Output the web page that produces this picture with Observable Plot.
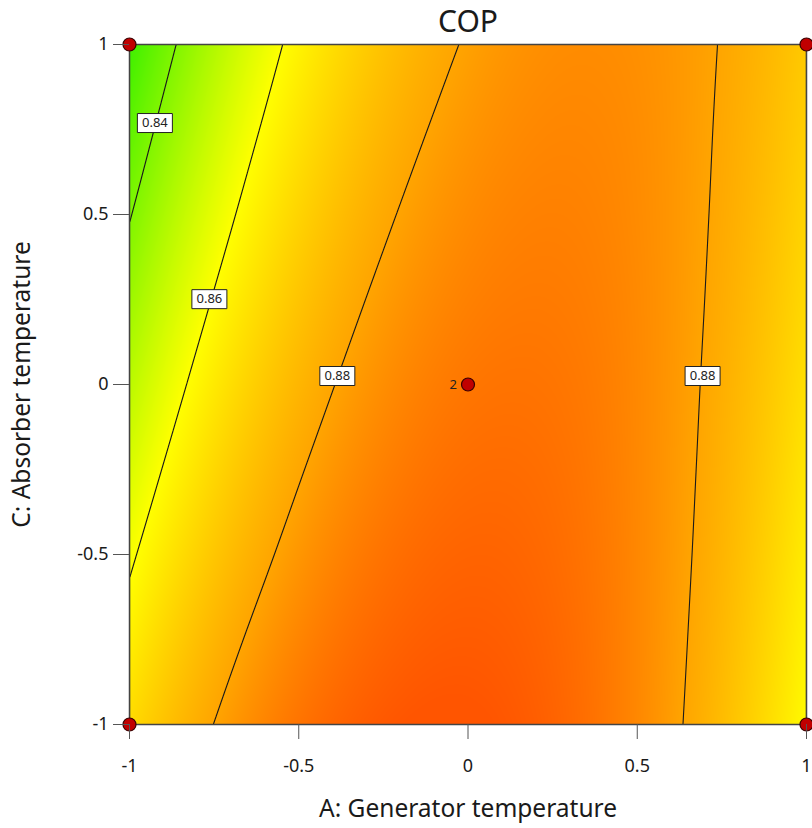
<!DOCTYPE html>
<html><head><meta charset="utf-8">
<script src="https://cdn.jsdelivr.net/npm/d3@7"></script>
<script src="https://cdn.jsdelivr.net/npm/@observablehq/plot@0.6"></script>
<style>body{margin:0;background:#fff;font-family:"Noto Sans",sans-serif}</style>
</head><body><div id="chart"></div>
<script>
// Coded factor levels (grid of COP estimates)
const A_levels = [-1, -0.75, -0.5, -0.25, 0, 0.25, 0.5, 0.75, 1];
const C_levels = [1, 0.75, 0.5, 0.25, 0, -0.25, -0.5, -0.75, -1];
// COP estimates: rows follow C_levels, columns follow A_levels
const copGrid = [
  [0.8294, 0.8478, 0.8625, 0.8734, 0.8806, 0.8841, 0.8837, 0.8797, 0.8718],
  [0.8345, 0.8521, 0.8660, 0.8762, 0.8826, 0.8853, 0.8842, 0.8793, 0.8707],
  [0.8395, 0.8563, 0.8695, 0.8789, 0.8845, 0.8864, 0.8845, 0.8789, 0.8695],
  [0.8444, 0.8605, 0.8729, 0.8815, 0.8863, 0.8874, 0.8848, 0.8784, 0.8683],
  [0.8492, 0.8646, 0.8762, 0.8840, 0.8881, 0.8884, 0.8850, 0.8778, 0.8669],
  [0.8540, 0.8686, 0.8794, 0.8864, 0.8898, 0.8893, 0.8851, 0.8772, 0.8655],
  [0.8587, 0.8725, 0.8825, 0.8888, 0.8914, 0.8901, 0.8852, 0.8765, 0.8640],
  [0.8633, 0.8764, 0.8856, 0.8911, 0.8929, 0.8909, 0.8852, 0.8757, 0.8625],
  [0.8679, 0.8801, 0.8886, 0.8934, 0.8944, 0.8916, 0.8851, 0.8748, 0.8608]
];
const contourLevels = [0.84, 0.86, 0.88];
// Contour label placements (coded units) and texts
const labelA = [-0.925, -0.764, -0.386, 0.693];
const labelC = [0.769, 0.251, 0.025, 0.025];
const labelText = ["0.84", "0.86", "0.88", "0.88"];
// Design points
const designA = [-1, 1, -1, 1, 0];
const designC = [1, 1, -1, -1, 0];
const designRuns = ["", "", "", "", "2"];
const tickValues = [-1, -0.5, 0, 0.5, 1];
const colorStops = [0.825, 0.86, 0.88, 0.894];
const colorRange = ["#22ee00", "#ffff00", "#ffa500", "#ff5500"];
const title = "COP";
const xLabel = "A: Generator temperature";
const yLabel = "C: Absorber temperature";

const nA = A_levels.length, nC = C_levels.length;
const surface = C_levels.flatMap((c, i) => A_levels.map((a, j) => ({A: a, C: c, cop: copGrid[i][j]})));
const contourLabels = labelText.map((t, i) => ({A: labelA[i], C: labelC[i], label: t}));
const designPoints = designRuns.map((r, i) => ({A: designA[i], C: designC[i], runs: r}));
const labelBox = {draw(context) { context.rect(-17.5, -9.5, 35, 19); }};
const fmt = d => String(d);

// Smooth (Catmull-Rom) resampling of the regular sample grid onto the raster
function smoothGrid(index, w, h, X, Y, V) {
  const x0 = X[0], xn = X[nA - 1], y0 = Y[0], yn = Y[(nC - 1) * nA];
  // padded grid with quadratic extrapolation for ghost cells
  const P = [];
  for (let i = 0; i < nC; ++i) {
    const row = [];
    for (let j = 0; j < nA; ++j) row.push(V[i * nA + j]);
    row.unshift(3 * row[0] - 3 * row[1] + row[2]);
    const m = row.length;
    row.push(3 * row[m - 1] - 3 * row[m - 2] + row[m - 3]);
    P.push(row);
  }
  const first = P[0].map((v, k) => 3 * v - 3 * P[1][k] + P[2][k]);
  const L = P.length;
  const last = P[L - 1].map((v, k) => 3 * v - 3 * P[L - 2][k] + P[L - 3][k]);
  P.unshift(first); P.push(last);
  const cr = (p0, p1, p2, p3, t) =>
    0.5 * (2 * p1 + (-p0 + p2) * t + (2 * p0 - 5 * p1 + 4 * p2 - p3) * t * t + (-p0 + 3 * p1 - 3 * p2 + p3) * t * t * t);
  const out = new Float64Array(w * h);
  for (let py = 0; py < h; ++py) {
    let gy = ((py + 0.5) - y0) / (yn - y0) * (nC - 1);
    gy = Math.max(0, Math.min(nC - 1, gy));
    const i0 = Math.min(Math.floor(gy), nC - 2), ty = gy - i0;
    for (let px = 0; px < w; ++px) {
      let gx = ((px + 0.5) - x0) / (xn - x0) * (nA - 1);
      gx = Math.max(0, Math.min(nA - 1, gx));
      const j0 = Math.min(Math.floor(gx), nA - 2), tx = gx - j0;
      const col = [];
      for (let r = 0; r < 4; ++r) {
        const row = P[i0 + r];
        col.push(cr(row[j0], row[j0 + 1], row[j0 + 2], row[j0 + 3], tx));
      }
      out[py * w + px] = cr(col[0], col[1], col[2], col[3], ty);
    }
  }
  return out;
}

const chart = Plot.plot({
  width: 812, height: 828,
  marginTop: 44, marginBottom: 104, marginLeft: 129, marginRight: 6,
  style: {fontFamily: "Noto Sans", background: "white", color: "#1a1a1a"},
  x: {domain: [-1, 1]},
  y: {domain: [-1, 1]},
  color: {type: "linear", domain: colorStops, range: colorRange, clamp: true},
  marks: [
    Plot.raster(surface, {x: "A", y: "C", fill: "cop", interpolate: smoothGrid, pixelSize: 1}),
    Plot.contour(surface, {x: "A", y: "C", value: "cop", thresholds: contourLevels, interpolate: smoothGrid, pixelSize: 1,
      fill: "none", stroke: "#1a1a1a", strokeWidth: 1.1, clip: true}),
    Plot.frame({stroke: "#444", strokeWidth: 1.5}),
    Plot.dot(contourLabels, {x: "A", y: "C", symbol: labelBox, r: 5, fill: "white", stroke: "#222", strokeWidth: 1}),
    Plot.text(contourLabels, {x: "A", y: "C", text: "label", fontSize: 13, fill: "#222"}),
    Plot.dot(designPoints, {x: "A", y: "C", r: 6.5, fill: "#c00000", stroke: "#3a0000", strokeWidth: 1.2}),
    Plot.text(designPoints, {x: "A", y: "C", text: "runs", dx: -11, textAnchor: "end", fontSize: 13, fill: "#222"}),
    Plot.axisX({ticks: tickValues, tickFormat: fmt, tickSize: 15, tickPadding: 20, fontSize: 18, label: null, stroke: "#555"}),
    Plot.axisY({ticks: tickValues, tickFormat: fmt, tickSize: 16, tickPadding: 5, fontSize: 18, label: null, stroke: "#555"}),
    Plot.text([title], {frameAnchor: "top", lineAnchor: "middle", textAnchor: "middle", dy: -22, fontSize: 30}),
    Plot.text([xLabel], {frameAnchor: "bottom", lineAnchor: "middle", textAnchor: "middle", dy: 85, fontSize: 24.5}),
    Plot.text([yLabel], {frameAnchor: "left", lineAnchor: "middle", textAnchor: "middle", dx: -107, rotate: -90, fontSize: 24.5})
  ]
});
document.getElementById("chart").appendChild(chart);
</script>
</body></html>
